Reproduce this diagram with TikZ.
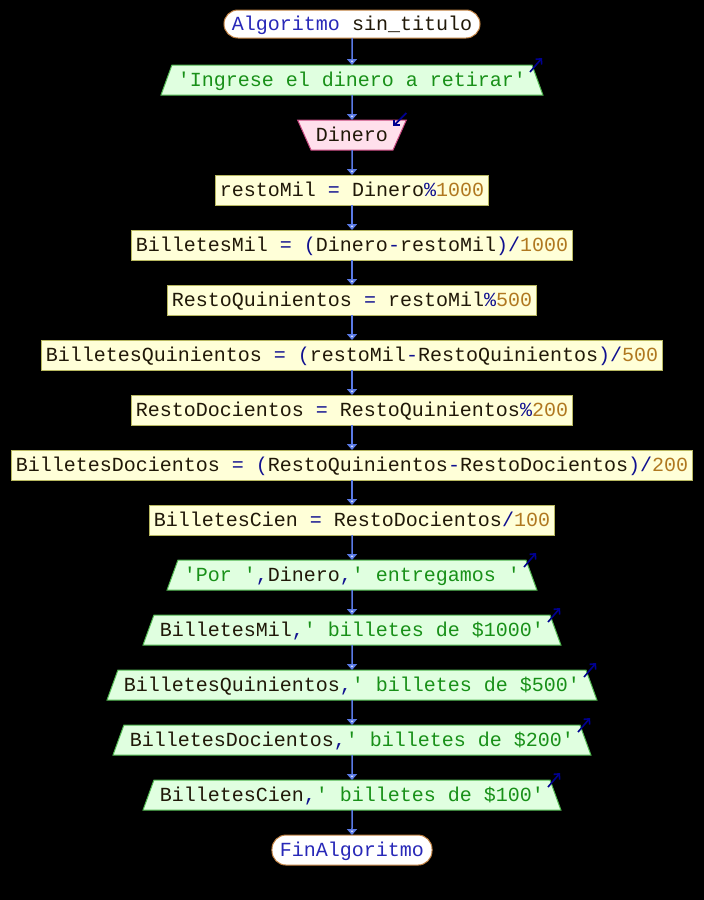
\documentclass[tikz,border=0pt]{standalone}
\usepackage{fontspec}
\setmonofont{Liberation Mono}
\usetikzlibrary{positioning,shapes.geometric,arrows.meta}

% 颜色
\definecolor{vartxt}{HTML}{201808}
\definecolor{kwcol}{HTML}{2828B8}
\definecolor{opcol}{HTML}{101090}
\definecolor{numcol}{HTML}{B07820}
\definecolor{strcol}{HTML}{189018}
\definecolor{termborde}{HTML}{C08040}
\definecolor{procborde}{HTML}{B8B860}
\definecolor{procfondo}{HTML}{FFFFD8}
\definecolor{salborde}{HTML}{50B850}
\definecolor{salfondo}{HTML}{E0FFE0}
\definecolor{entborde}{HTML}{C84880}
\definecolor{entfondo}{HTML}{FFE0EC}
\definecolor{flujo}{HTML}{5A7AE6}
\definecolor{flujoclaro}{HTML}{D8E0FF}
\definecolor{iconcol}{HTML}{000090}

% 文字着色
\newcommand{\kwd}[1]{\textcolor{kwcol}{#1}}
\newcommand{\opr}[1]{\textcolor{opcol}{#1}}
\newcommand{\numr}[1]{\textcolor{numcol}{#1}}
\newcommand{\cad}[1]{\textcolor{strcol}{#1}}

\tikzset{
  base/.style={font=\ttfamily\fontsize{20}{24}\selectfont, text=vartxt,
    text height=16pt, text depth=4pt, inner ysep=5pt, inner xsep=4pt,
    outer sep=0pt, line width=1pt},
  terminal/.style={base, draw=termborde, fill=white, rounded corners=14pt, inner xsep=8pt},
  proceso/.style={base, draw=procborde, fill=procfondo},
  salida/.style={base, trapezium, trapezium left angle=70, trapezium right angle=70,
    draw=salborde, fill=salfondo, inner xsep=6pt},
  entrada/.style={base, trapezium, trapezium left angle=114, trapezium right angle=114,
    draw=entborde, fill=entfondo, inner xsep=5pt},
  flecha/.style={draw=flujo, line width=1.5pt, -{Triangle[width=10pt,length=6pt,fill=flujoclaro]}},
  icono/.style={draw=iconcol, line width=1.6pt, -{Straight Barb[length=4pt,width=8pt]}},
}

\begin{document}
\begin{tikzpicture}[node distance=25pt]
    % 背景
    \fill[black] (0,0) rectangle (704pt,-900pt);
    % 流程节点
    \node[terminal, inner ysep=4pt] (inicio) at (352pt,-24pt) {\kwd{Algoritmo} sin\_titulo};
    \node[salida, below=27pt of inicio] (pide) {\cad{'Ingrese el dinero a retirar'}};
    \node[entrada, below=of pide] (lee) {Dinero};
    \node[proceso, below=of lee] (p1) {restoMil \opr{=} Dinero\opr{\%}\numr{1000}};
    \node[proceso, below=of p1] (p2) {BilletesMil \opr{= (}Dinero\opr{-}restoMil\opr{)/}\numr{1000}};
    \node[proceso, below=of p2] (p3) {RestoQuinientos \opr{=} restoMil\opr{\%}\numr{500}};
    \node[proceso, below=of p3] (p4) {BilletesQuinientos \opr{= (}restoMil\opr{-}RestoQuinientos\opr{)/}\numr{500}};
    \node[proceso, below=of p4] (p5) {RestoDocientos \opr{=} RestoQuinientos\opr{\%}\numr{200}};
    \node[proceso, below=of p5] (p6) {BilletesDocientos \opr{= (}RestoQuinientos\opr{-}RestoDocientos\opr{)/}\numr{200}};
    \node[proceso, below=of p6] (p7) {BilletesCien \opr{=} RestoDocientos\opr{/}\numr{100}};
    \node[salida, below=of p7] (e1) {\cad{'Por '}\opr{,}Dinero\opr{,}\cad{' entregamos '}};
    \node[salida, below=of e1] (e2) {BilletesMil\opr{,}\cad{' billetes de \$1000'}};
    \node[salida, below=of e2] (e3) {BilletesQuinientos\opr{,}\cad{' billetes de \$500'}};
    \node[salida, below=of e3] (e4) {BilletesDocientos\opr{,}\cad{' billetes de \$200'}};
    \node[salida, below=of e4] (e5) {BilletesCien\opr{,}\cad{' billetes de \$100'}};
    \node[terminal, below=of e5] (fin) {\kwd{FinAlgoritmo}};
    % 连线
    \foreach \a/\b in {inicio/pide, pide/lee, lee/p1, p1/p2, p2/p3, p3/p4, p4/p5, p5/p6,
                       p6/p7, p7/e1, e1/e2, e2/e3, e3/e4, e4/e5, e5/fin}
        \draw[flecha] (\a) -- (\b);
    % 输入输出小箭头
    \foreach \n in {pide, e1, e2, e3, e4, e5}
        \draw[icono] ([shift={(-2pt,-7pt)}]\n.top right corner) -- ([shift={(10pt,7pt)}]\n.top right corner);
    \draw[icono] ([shift={(0pt,7pt)}]lee.top right corner) -- ([shift={(-13pt,-6pt)}]lee.top right corner);
\end{tikzpicture}
\end{document}
